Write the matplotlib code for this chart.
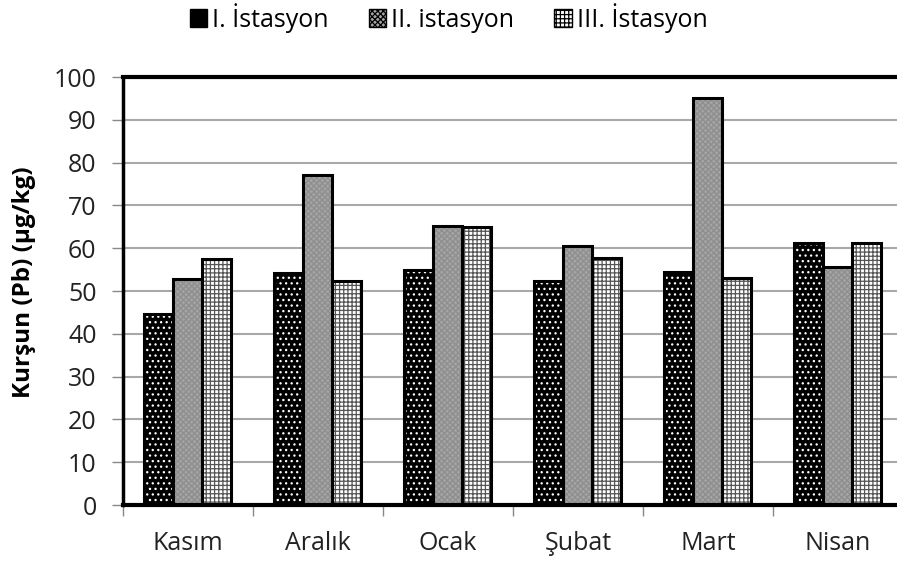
import matplotlib
matplotlib.use("Agg")
import matplotlib.pyplot as plt
import numpy as np
from matplotlib.patches import Patch

months = ["Kasım", "Aralık", "Ocak", "Şubat", "Mart", "Nisan"]
series_names = ["I. İstasyon", "II. istasyon", "III. İstasyon"]
station_1 = [44.6, 54.2, 54.9, 52.3, 54.4, 61.2]
station_2 = [52.8, 77.1, 65.2, 60.5, 95.1, 55.6]
station_3 = [57.5, 52.3, 65.0, 57.7, 53.0, 61.2]
yticks = list(range(0, 101, 10))

plt.rcParams["font.family"] = ["Open Sans", "DejaVu Sans"]
plt.rcParams["hatch.linewidth"] = 0.9

fig = plt.figure(figsize=(8.97, 5.63), dpi=100)
ax = fig.add_axes([0.137, 0.103, 0.8696, 0.760])

x = np.arange(len(months))
w = 0.223

styles = [
    dict(face="black", hatch="...", hcol="white"),
    dict(face="#a4a4a4", hatch="xxxxxx", hcol="#8e8e8e"),
    dict(face="white", hatch="++++", hcol="#555555"),
]
data = [station_1, station_2, station_3]

for i, (vals, st) in enumerate(zip(data, styles)):
    pos = x + (i - 1) * w
    ax.bar(pos, vals, w, color=st["face"], hatch=st["hatch"],
           edgecolor=st["hcol"], linewidth=0, zorder=2)
    ax.bar(pos, vals, w, fill=False, edgecolor="black", linewidth=2.2, zorder=3)

ax.set_xlim(-0.5, len(months) - 0.5)
ax.set_ylim(0, 100)
ax.set_yticks(yticks)
ax.set_yticklabels([str(t) for t in yticks], fontsize=18, color="#222222")
ax.set_xticks(x)
ax.set_xticklabels(months, fontsize=18, color="#222222")
ax.tick_params(axis="x", length=0, pad=19)
ax.set_xticks(np.arange(-0.5, len(months), 1), minor=True)
ax.tick_params(axis="x", which="minor", length=8, width=1, color="#888888")
ax.tick_params(axis="y", length=8, width=1, color="#888888", pad=11)

ax.grid(axis="y", color="#a8a8a8", linewidth=1.5, zorder=0)
ax.set_axisbelow(True)

for side in ["left", "bottom", "top"]:
    ax.spines[side].set_linewidth(3)
    ax.spines[side].set_color("black")
ax.spines["left"].set_linewidth(2.5)
ax.spines["right"].set_visible(False)

ax.set_ylabel("Kurşun (Pb) (µg/kg)", fontsize=17.5, fontweight="bold")
ax.yaxis.set_label_coords(-0.112, 0.52)

handles = [Patch(facecolor=st["face"], hatch=st["hatch"], edgecolor="black", linewidth=1)
           for st in styles]
fig.legend(handles, series_names, loc="center", bbox_to_anchor=(0.5, 0.968),
           ncol=3, frameon=False, fontsize=18, handlelength=0.7, handleheight=0.7,
           handletextpad=0.2, columnspacing=1.6)

fig.savefig("out.png", dpi=100)
